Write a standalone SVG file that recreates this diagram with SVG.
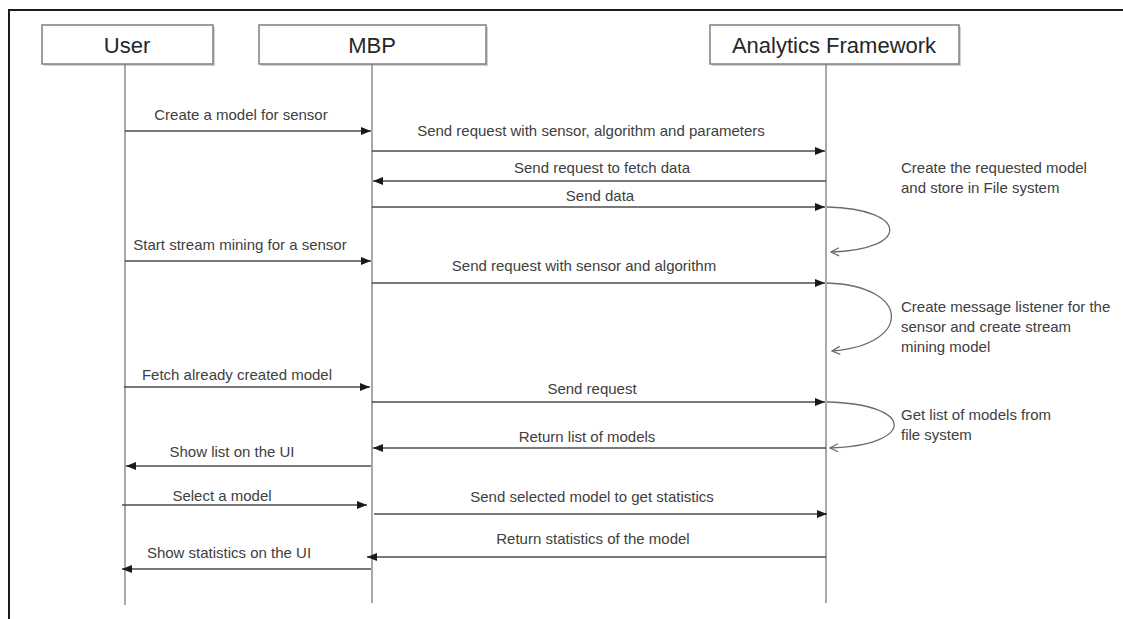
<svg xmlns="http://www.w3.org/2000/svg" width="1123" height="619" viewBox="0 0 1123 619">
  <style>
    .frame { stroke: #1a1a1a; stroke-width: 2; fill: none; }
    .box { fill: #ffffff; stroke: #7f7f7f; stroke-width: 1.5; }
    .shadow { fill: #d0d0d0; }
    .head { font-family: "Liberation Sans", Arial, sans-serif; font-size: 22px; fill: #262626; text-anchor: middle; }
    .life { stroke: #7a7a7a; stroke-width: 1.3; fill: none; }
    .msg { stroke: #4d4d4d; stroke-width: 1.3; fill: none; marker-end: url(#solid); }
    .self { stroke: #6b6b6b; stroke-width: 1.3; fill: none; marker-end: url(#open); }
    .lbl { font-family: "Liberation Sans", Arial, sans-serif; font-size: 15px; fill: #404040; text-anchor: middle; }
    .note { font-family: "Liberation Sans", Arial, sans-serif; font-size: 15px; fill: #404040; }
  </style>
  <defs>
    <marker id="solid" viewBox="0 0 10 8" refX="10" refY="4" markerWidth="10" markerHeight="8" markerUnits="userSpaceOnUse" orient="auto">
      <path d="M0,0 L10,4 L0,8 Z" fill="#1a1a1a"/>
    </marker>
    <marker id="open" viewBox="0 0 10 10" refX="9" refY="5" markerWidth="10" markerHeight="10" markerUnits="userSpaceOnUse" orient="auto">
      <path d="M1,1 L9,5 L1,9" fill="none" stroke="#6b6b6b" stroke-width="1.3"/>
    </marker>
  </defs>

  <rect width="1123" height="619" fill="#ffffff"/>

  <!-- outer frame: top and left edges -->
  <path class="frame" d="M9,619 L9,10 L1123,10"/>

  <!-- participants -->
  <g id="user">
    <rect class="shadow" x="44" y="27" width="171" height="39"/>
    <rect class="box" x="42" y="25" width="171" height="39"/>
    <text class="head" x="127" y="53">User</text>
    <line class="life" x1="125" y1="64" x2="125" y2="605"/>
  </g>
  <g id="mbp">
    <rect class="shadow" x="261" y="27" width="227" height="39"/>
    <rect class="box" x="259" y="25" width="227" height="39"/>
    <text class="head" x="372" y="53">MBP</text>
    <line class="life" x1="372" y1="64" x2="372" y2="603"/>
  </g>
  <g id="analytics-framework">
    <rect class="shadow" x="712" y="27" width="249" height="39"/>
    <rect class="box" x="710" y="25" width="249" height="39"/>
    <text class="head" x="834" y="53">Analytics Framework</text>
    <line class="life" x1="826" y1="64" x2="826" y2="603"/>
  </g>

  <!-- notes beside the analytics lifeline -->
  <g id="notes">
    <text class="note" x="901" y="173">Create the requested model</text>
    <text class="note" x="901" y="193">and store in File system</text>
    <text class="note" x="901" y="312">Create message listener for the</text>
    <text class="note" x="901" y="332">sensor and create stream</text>
    <text class="note" x="901" y="352">mining model</text>
    <text class="note" x="901" y="420">Get list of models from</text>
    <text class="note" x="901" y="440">file system</text>
  </g>

  <!-- messages -->
  <g id="connectors">
    <line class="msg" x1="125" y1="131" x2="371" y2="131"/>
    <text class="lbl" x="241" y="120">Create a model for sensor</text>

    <line class="msg" x1="372" y1="151" x2="825" y2="151"/>
    <text class="lbl" x="591" y="136">Send request with sensor, algorithm and parameters</text>

    <line class="msg" x1="826" y1="181" x2="373" y2="181"/>
    <text class="lbl" x="602" y="173">Send request to fetch data</text>

    <line class="msg" x1="372" y1="207" x2="825" y2="207"/>
    <text class="lbl" x="600" y="201">Send data</text>

    <path class="self" d="M827,207 C910,209 910,250 831,252"/>

    <line class="msg" x1="125" y1="261" x2="371" y2="261"/>
    <text class="lbl" x="240" y="250">Start stream mining for a sensor</text>

    <line class="msg" x1="372" y1="283" x2="825" y2="283"/>
    <text class="lbl" x="584" y="271">Send request with sensor and algorithm</text>

    <path class="self" d="M827,283 C912,286 912,345 832,351"/>

    <line class="msg" x1="124" y1="387" x2="370" y2="387"/>
    <text class="lbl" x="237" y="380">Fetch already created model</text>

    <line class="msg" x1="372" y1="402" x2="825" y2="402"/>
    <text class="lbl" x="592" y="394">Send request</text>

    <path class="self" d="M827,402 C916,404 916,445 830,448"/>

    <line class="msg" x1="826" y1="448" x2="373" y2="448"/>
    <text class="lbl" x="587" y="442">Return list of models</text>

    <line class="msg" x1="371" y1="466" x2="126" y2="466"/>
    <text class="lbl" x="232" y="457">Show list on the UI</text>

    <line class="msg" x1="122" y1="505" x2="367" y2="505"/>
    <text class="lbl" x="222" y="501">Select a model</text>

    <line class="msg" x1="374" y1="514" x2="827" y2="514"/>
    <text class="lbl" x="592" y="502">Send selected model to get statistics</text>

    <line class="msg" x1="826" y1="557" x2="367" y2="557"/>
    <text class="lbl" x="593" y="544">Return statistics of the model</text>

    <line class="msg" x1="371" y1="569" x2="122" y2="569"/>
    <text class="lbl" x="229" y="558">Show statistics on the UI</text>
  </g>
</svg>
